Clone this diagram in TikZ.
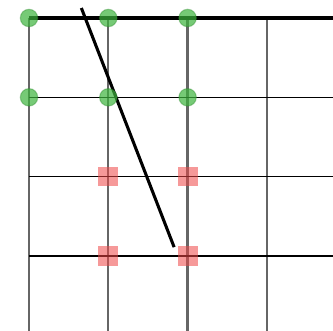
\documentclass[tikz,border=0pt]{standalone}
\usepackage{tikz}
\definecolor{dotGreen}{RGB}{60, 180, 60}
\definecolor{boxRed}{RGB}{240, 70, 70}
\tikzset{
  gridv/.style={draw=black!60, line width=0.85pt},
  gridh/.style={draw=black, line width=0.5pt},
  gooddot/.style={circle, inner sep=0pt, minimum size=0.22cm, fill=dotGreen, fill opacity=0.7, draw=dotGreen!80!black, draw opacity=0.4},
  badbox/.style={rectangle, inner sep=0pt, minimum size=0.25cm, fill=boxRed, fill opacity=0.55}
}

\begin{document}
\begin{tikzpicture}
      \useasboundingbox (-0.366,0.227) rectangle (3.834,-3.947);
      \fill[white] (-0.366,0.227) rectangle (3.834,-3.947);

      % grid
      \foreach \x in {0,1,2,3}
        \draw[gridv] (\x,0) -- (\x,-3.947);
      \foreach \y in {1,2,3}
        \draw[gridh] (0,-\y) -- (3.834,-\y);
      \draw[black, line width=1.3pt] (0,0) -- (3.834,0);

      % cut line
      \coordinate (cutA) at (0.66,0.126);
      \coordinate (cutB) at (1.83,-2.89);
      \draw[black, line width=1.1pt] (cutA) -- (cutB);

      \node[gooddot] (g00) at (0,0) {};
      \node[gooddot] (g10) at (1,0) {};
      \node[gooddot] (g20) at (2,0) {};
      \node[gooddot] (g01) at (0,-1) {};
      \node[gooddot] (g11) at (1,-1) {};
      \node[gooddot] (g21) at (2,-1) {};

      \node[badbox] (b12) at (1,-2) {};
      \node[badbox] (b22) at (2,-2) {};
      \node[badbox] (b13) at (1,-3) {};
      \node[badbox] (b23) at (2,-3) {};
    \end{tikzpicture}
\end{document}
